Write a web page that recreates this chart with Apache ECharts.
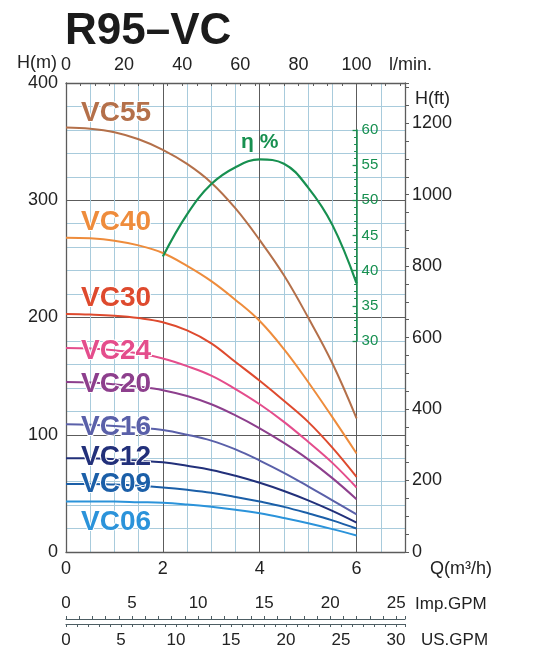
<!DOCTYPE html>
<html><head><meta charset="utf-8">
<script src="https://cdn.jsdelivr.net/npm/echarts@6/dist/echarts.min.js"></script>
<style>html,body{margin:0;padding:0;background:#fff}#c{width:533px;height:672px}</style>
</head><body><div id="c"></div>
<script>
// ---------- DATA ----------
const flowQ = [0, 0.5, 1, 1.5, 2, 2.5, 3, 3.5, 4, 4.5, 5, 5.5, 6];
const VC55 = [362, 361, 358, 352, 343, 331, 315, 293, 266, 236, 200, 161, 114];
const VC40 = [268, 267.5, 265.5, 261.5, 255, 244, 231, 215, 197, 173, 145, 115, 84];
const VC30 = [203, 202.5, 201.5, 199.5, 196, 189, 178, 162, 146, 129, 111, 89, 64];
const VC24 = [174, 173.5, 172, 169.5, 165, 158.5, 150.5, 139, 126, 111, 94, 76, 55];
const VC20 = [145, 144.5, 143, 141, 138, 133, 126, 116.5, 105.5, 93, 79, 63, 45];
const VC16 = [109, 108.5, 107.5, 106, 104, 100, 95, 87.5, 78, 67.5, 56, 44, 32];
const VC12 = [80, 80, 79, 78, 76.5, 73.5, 70, 65, 59, 52, 44, 35, 25];
const VC09 = [58, 58, 57.5, 56.5, 55, 53, 50.5, 47, 43, 38.5, 33, 27, 20];
const VC06 = [43, 43, 43, 42.5, 42, 40.5, 38.5, 36, 33, 29, 24.5, 19.5, 14];
const effQ = [2, 2.5, 3, 3.5, 4, 4.5, 5, 5.5, 6];
const effPct = [42, 48, 52.3, 54.7, 55.8, 55.2, 51.8, 46.5, 38.2];
const modelNames = ['VC55', 'VC40', 'VC30', 'VC24', 'VC20', 'VC16', 'VC12', 'VC09', 'VC06'];
const modelHeads = [VC55, VC40, VC30, VC24, VC20, VC16, VC12, VC09, VC06];

const qTickLabels = [0, 2, 4, 6];
const lpmTickLabels = [0, 20, 40, 60, 80, 100];
const headTickLabels = [0, 100, 200, 300, 400];
const ftTickLabels = [0, 200, 400, 600, 800, 1000, 1200];
const effTickLabels = [30, 35, 40, 45, 50, 55, 60];
const impTickLabels = [0, 5, 10, 15, 20, 25];
const usTickLabels = [0, 5, 10, 15, 20, 25, 30];

// ---------- STYLE / LAYOUT ----------
const FONT = "'Liberation Sans', Arial, sans-serif";
const modelColors = ['#b4704a', '#ee8c3c', '#de4a2e', '#e44d8c', '#8d3f8d', '#5a60a9', '#22307a', '#1b5fa8', '#2b93da'];
const labelY = [113, 222.5, 298.5, 351.5, 384, 427.5, 457.5, 484, 522];
const GREEN = '#179050';
const DARK = '#5c5c5c', LIGHT = '#a8cbdc', TXT = '#222';
const G = { left: 66, right: 128, top: 83, bottom: 120 };
const W = 533, H = 672;
const plotH = H - G.top - G.bottom, plotW = W - G.left - G.right;
const Q_MAX = 7, H_MAX = 400;
const ETA_PER_M = 6;               // 1 % efficiency drawn as 6 m
const yOf = h => G.top + plotH * (1 - h / H_MAX);
const xOf = q => G.left + plotW * q / Q_MAX;
const M_PER_FT = 0.3048;
const LPM_PER_M3H = 1000 / 60;

const inList = list => v => (list.includes(Math.round(v * 1000) / 1000) ? String(Math.round(v)) : '');

const series = modelHeads.map((vals, i) => ({
  type: 'line', name: modelNames[i], xAxisIndex: 0, yAxisIndex: 0,
  data: flowQ.map((q, k) => [q, vals[k]]),
  smooth: 0.4, symbol: 'none', z: 3,
  lineStyle: { color: modelColors[i], width: 2 }
}));
series.push({
  type: 'line', name: 'eta', xAxisIndex: 0, yAxisIndex: 2,
  data: effQ.map((q, k) => [q, effPct[k]]),
  smooth: 0.4, symbol: 'none', z: 4,
  lineStyle: { color: GREEN, width: 2.2 }
});

const axisTxt = { color: TXT, fontSize: 18, fontFamily: FONT };
const GPM = '#4d5d63';

const option = {
  animation: false,
  backgroundColor: '#fff',
  grid: [
    { left: G.left, right: G.right, top: G.top, bottom: G.bottom, containLabel: false },
    { left: xOf(6) - 20, right: W - xOf(6), top: yOf(60 * ETA_PER_M), bottom: H - yOf(30 * ETA_PER_M) },
    { left: G.left, right: G.right, top: 619, bottom: H - 624 }
  ],
  xAxis: [
    { gridIndex: 0, type: 'value', position: 'bottom', min: 0, max: Q_MAX, interval: 0.5,
      axisLine: { onZero: false, lineStyle: { color: DARK, width: 1.3 } }, axisTick: { show: false },
      axisLabel: Object.assign({ interval: 0, margin: 8, formatter: inList(qTickLabels) }, axisTxt),
      splitLine: { show: true, lineStyle: { color: [DARK, LIGHT, LIGHT, LIGHT], width: 1 } } },
    { gridIndex: 0, type: 'value', position: 'top', min: 0, max: Q_MAX * LPM_PER_M3H, interval: 5,
      axisLine: { onZero: false, lineStyle: { color: DARK, width: 1.3 } },
      axisTick: { show: true, inside: true, length: 3, lineStyle: { color: DARK } },
      axisLabel: Object.assign({ interval: 0, margin: 9, formatter: inList(lpmTickLabels) }, axisTxt),
      splitLine: { show: false } },
    { gridIndex: 1, type: 'value', show: false, min: 0, max: 1 },
    { gridIndex: 2, type: 'value', position: 'top', min: 0, max: Q_MAX * LPM_PER_M3H / 4.54609, interval: 1,
      axisLine: { onZero: false, lineStyle: { color: GPM, width: 1.2 } },
      axisTick: { show: true, inside: false, length: 3, lineStyle: { color: GPM } },
      axisLabel: Object.assign({ interval: 0, margin: 7, formatter: inList(impTickLabels) }, axisTxt, { fontSize: 17 }),
      splitLine: { show: false } },
    { gridIndex: 2, type: 'value', position: 'bottom', min: 0, max: Q_MAX * LPM_PER_M3H / 3.785411784, interval: 1,
      axisLine: { onZero: false, lineStyle: { color: GPM, width: 1.2 } },
      axisTick: { show: true, inside: false, length: 3, lineStyle: { color: GPM } },
      axisLabel: Object.assign({ interval: 0, margin: 8, formatter: inList(usTickLabels) }, axisTxt, { fontSize: 17 }),
      splitLine: { show: false } }
  ],
  yAxis: [
    { gridIndex: 0, type: 'value', position: 'left', min: 0, max: H_MAX, interval: 20,
      axisLine: { show: true, onZero: false, lineStyle: { color: DARK, width: 1.3 } }, axisTick: { show: false },
      axisLabel: Object.assign({ interval: 0, margin: 8, formatter: inList(headTickLabels) }, axisTxt),
      splitLine: { show: true, lineStyle: { color: [DARK, LIGHT, LIGHT, LIGHT, LIGHT], width: 1 } } },
    { gridIndex: 0, type: 'value', position: 'right', min: 0, max: H_MAX / M_PER_FT, interval: 50,
      axisLine: { show: true, onZero: false, lineStyle: { color: DARK, width: 1.3 } },
      axisTick: { show: true, inside: false, length: 4, lineStyle: { color: DARK } },
      axisLabel: Object.assign({ interval: 0, margin: 7, formatter: inList(ftTickLabels) }, axisTxt),
      splitLine: { show: false } },
    { gridIndex: 0, type: 'value', show: false, min: 0, max: H_MAX / ETA_PER_M },
    { gridIndex: 1, type: 'value', position: 'right', min: 30, max: 60, interval: 5,
      axisLine: { show: true, onZero: false, lineStyle: { color: GREEN, width: 1.5 } },
      axisTick: { show: true, inside: true, length: 4, lineStyle: { color: GREEN, width: 1.3 } },
      minorTick: { show: true, splitNumber: 5, length: 2.5, lineStyle: { color: GREEN } },
      axisLabel: { color: GREEN, fontSize: 15, fontFamily: FONT, margin: 5, formatter: inList(effTickLabels) },
      splitLine: { show: false } },
    { gridIndex: 2, type: 'value', show: false, min: 0, max: 1 }
  ],
  graphic: [
    { type: 'text', z: 100, style: { x: 65, y: 32, text: 'R95–VC', fill: '#1b1b1b', font: `bold 44px ${FONT}`, textVerticalAlign: 'middle', verticalAlign: 'middle' } },
    { type: 'text', z: 100, style: { x: 17, y: 63, text: 'H(m)', fill: TXT, font: `18px ${FONT}`, textVerticalAlign: 'middle', verticalAlign: 'middle' } },
    { type: 'text', z: 100, style: { x: 389, y: 65, text: 'l/min.', fill: TXT, font: `18px ${FONT}`, textVerticalAlign: 'middle', verticalAlign: 'middle' } },
    { type: 'text', z: 100, style: { x: 415, y: 99, text: 'H(ft)', fill: TXT, font: `18px ${FONT}`, textVerticalAlign: 'middle', verticalAlign: 'middle' } },
    { type: 'text', z: 100, style: { x: 430, y: 569, text: 'Q(m³/h)', fill: TXT, font: `18px ${FONT}`, textVerticalAlign: 'middle', verticalAlign: 'middle' } },
    { type: 'text', z: 100, style: { x: 415, y: 604, text: 'Imp.GPM', fill: TXT, font: `17px ${FONT}`, textVerticalAlign: 'middle', verticalAlign: 'middle' } },
    { type: 'text', z: 100, style: { x: 421, y: 640, text: 'US.GPM', fill: TXT, font: `17px ${FONT}`, textVerticalAlign: 'middle', verticalAlign: 'middle' } },
    { type: 'text', z: 100, style: { x: 241, y: 142, text: 'η %', fill: GREEN, font: `bold 21px ${FONT}`, textVerticalAlign: 'middle', verticalAlign: 'middle' } }
  ].concat(modelNames.map((n, i) => ({
    type: 'text', z: 100,
    style: { x: 81, y: labelY[i], text: n, fill: modelColors[i], stroke: '#fff', lineWidth: 2,
      font: `bold 28px ${FONT}`, textVerticalAlign: 'middle', verticalAlign: 'middle' }
  }))),
  series: series
};

const chart = echarts.init(document.getElementById('c'), null, { renderer: 'canvas' });
chart.setOption(option);
</script>
</body></html>
